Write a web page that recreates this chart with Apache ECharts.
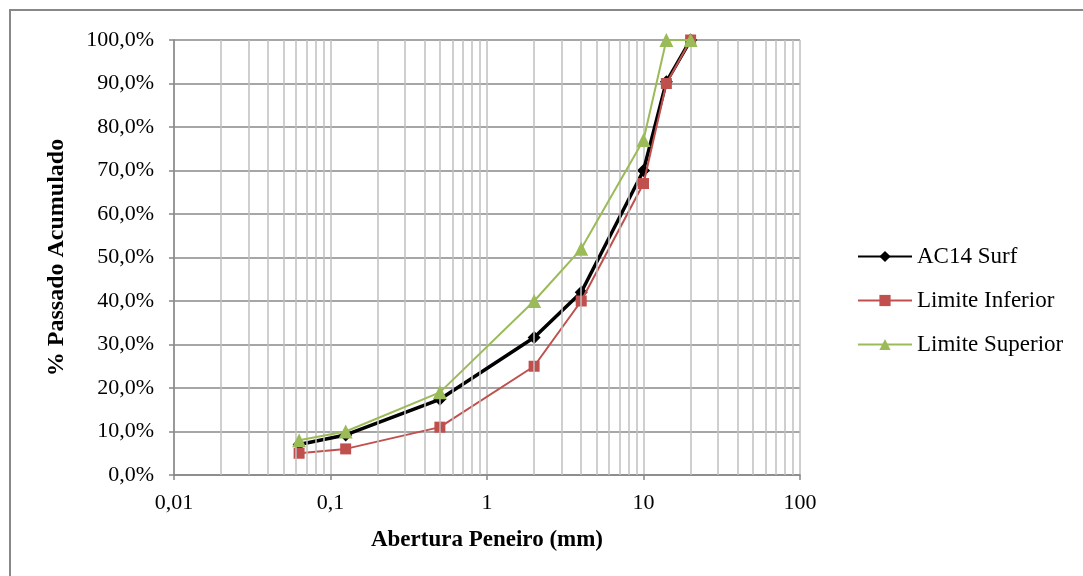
<!DOCTYPE html>
<html>
<head>
<meta charset="utf-8">
<script src="https://cdn.jsdelivr.net/npm/echarts@6/dist/echarts.min.js"></script>
<style>
html,body{margin:0;padding:0;background:#fff;}
#chart{width:1083px;height:576px;}
</style>
</head>
<body>
<div id="chart"></div>
<script>
// Sieve openings (mm)
var sieves = [0.063, 0.125, 0.5, 2, 4, 10, 14, 20];
// % passing
var ac14Surf = [7.0, 9.2, 17.4, 31.6, 42.0, 70.0, 90.4, 100];
var limiteInferior = [5.0, 6.0, 11.0, 25.0, 40.0, 67.0, 90.0, 100];
var limiteSuperior = [8.0, 10.0, 19.0, 40.0, 52.0, 77.0, 100, 100];
var seriesNames = ['AC14 Surf', 'Limite Inferior', 'Limite Superior'];
// minor vertical gridline positions on the log axis
var minorGridX = [0.02,0.03,0.04,0.05,0.06,0.07,0.08,0.09,
                  0.2,0.3,0.4,0.5,0.6,0.7,0.8,0.9,
                  2,3,4,5,6,7,8,9,
                  20,30,40,50,60,70,80,90];
var xTitle = 'Abertura Peneiro (mm)';
var yTitle = '% Passado Acumulado';

function pairs(xs, ys){ return xs.map(function(x,i){ return [x, ys[i]]; }); }

var FONT = "'Liberation Serif','Times New Roman',serif";
var chart = echarts.init(document.getElementById('chart'), null, {renderer:'canvas'});
chart.setOption({
  animation:false,
  backgroundColor:'#ffffff',
  textStyle:{fontFamily:FONT},
  graphic:[{
    type:'rect', silent:true, z:-10,
    shape:{x:10, y:10, width:1200, height:700},
    style:{fill:'none', stroke:'#888888', lineWidth:2}
  }],
  grid:{left:174, right:283, top:40, bottom:101, containLabel:false},
  legend:{
    orient:'vertical', left:852, top:240,
    itemWidth:54, itemHeight:14, itemGap:21,
    textStyle:{fontFamily:FONT, fontSize:23, color:'#000', lineHeight:22},
    data:seriesNames
  },
  xAxis:{
    type:'log', logBase:10, min:0.01, max:100,
    name:xTitle, nameLocation:'middle', nameGap:54,
    nameTextStyle:{fontFamily:FONT, fontSize:23, fontWeight:'bold', color:'#000'},
    axisLine:{show:true, onZero:false, lineStyle:{color:'#868686', width:1.5}},
    axisTick:{show:true, inside:false, length:5, lineStyle:{color:'#868686', width:1.5}},
    axisLabel:{fontFamily:FONT, fontSize:22, color:'#000', margin:17,
      formatter:function(v){ return String(Number(v.toPrecision(6))).replace('.', ','); }},
    splitLine:{show:true, lineStyle:{color:'#BFBFBF', width:1.5}}
  },
  yAxis:{
    type:'value', min:0, max:100, interval:10,
    name:yTitle, nameLocation:'middle', nameGap:105, nameRotate:90,
    nameTextStyle:{fontFamily:FONT, fontSize:24, fontWeight:'bold', color:'#000'},
    axisLine:{show:true, lineStyle:{color:'#868686', width:1.5}},
    axisTick:{show:true, inside:false, length:5, lineStyle:{color:'#868686', width:1.5}},
    axisLabel:{fontFamily:FONT, fontSize:22, color:'#000', margin:20,
      formatter:function(v){ return v.toFixed(1).replace('.', ',') + '%'; }},
    splitLine:{show:true, lineStyle:{color:'#898989', width:1.5}}
  },
  series:[
    {
      name:'__grid', type:'line', data:[], silent:true, z:0,
      markLine:{
        silent:true, symbol:['none','none'], animation:false,
        label:{show:false},
        lineStyle:{color:'#BFBFBF', width:1.5, type:'solid'},
        emphasis:{disabled:true},
        data:minorGridX.map(function(x){ return {xAxis:x}; })
      }
    },
    {
      name:seriesNames[0], type:'line', data:pairs(sieves, ac14Surf),
      color:'#000000', symbol:'diamond', symbolSize:13,
      lineStyle:{color:'#000000', width:3.5}, itemStyle:{color:'#000000'}, z:3
    },
    {
      name:seriesNames[1], type:'line', data:pairs(sieves, limiteInferior),
      color:'#C0504D', symbol:'rect', symbolSize:11,
      lineStyle:{color:'#C0504D', width:2}, itemStyle:{color:'#C0504D'}, z:4
    },
    {
      name:seriesNames[2], type:'line', data:pairs(sieves, limiteSuperior),
      color:'#9BBB59', symbol:'triangle', symbolSize:14,
      lineStyle:{color:'#9BBB59', width:2}, itemStyle:{color:'#9BBB59'}, z:5
    }
  ]
});
</script>
</body>
</html>
